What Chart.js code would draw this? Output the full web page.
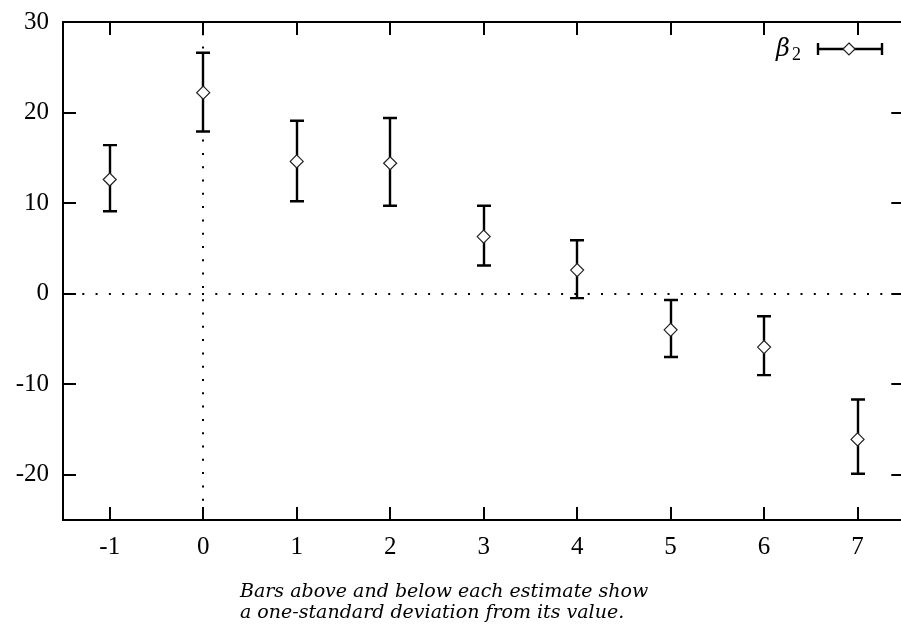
<!DOCTYPE html>
<html>
<head>
<meta charset="utf-8">
<script src="https://cdn.jsdelivr.net/npm/chart.js@4"></script>
<style>
    html, body { margin: 0; padding: 0; overflow: hidden; background: #fff; }
    #wrap { position: relative; width: 901px; height: 633px; overflow: hidden; }
    #caption {
        position: absolute; left: 240px; top: 580px;
        font: italic 19px 'DejaVu Serif', serif; line-height: 21px; color: #000;
        white-space: nowrap;
    }
</style>
</head>
<body>
<div id="wrap">
    <canvas id="chart" width="912" height="633"></canvas>
    <div id="caption">Bars above and below each estimate show<br>a one-standard deviation from its value.</div>
</div>
<script>
// ── Data ───────────────────────────────────────────
const X_VALUES = [-1, 0, 1, 2, 3, 4, 5, 6, 7];
const ESTIMATES = [12.6, 22.2, 14.6, 14.4, 6.3, 2.6, -4.0, -5.9, -16.1];
const UPPER = [16.4, 26.6, 19.1, 19.4, 9.7, 5.9, -0.7, -2.5, -11.7];
const LOWER = [9.1, 17.9, 10.2, 9.7, 3.1, -0.5, -7.0, -9.0, -19.9];
const X_TICKS = [-1, 0, 1, 2, 3, 4, 5, 6, 7];
const Y_TICKS = [-20, -10, 0, 10, 20, 30];
const SERIES_LABEL = 'β';
const SERIES_SUB = '2';

const TICK_FONT = { family: "'Liberation Serif', serif", size: 25 };

// ── Frame, inward ticks and dotted zero lines ─────
const framePlugin = {
    id: 'frame',
    beforeDatasetsDraw(chart) {
        const { ctx, chartArea: a, scales: { x, y } } = chart;
        ctx.save();
        ctx.strokeStyle = '#000';

        // dotted zero lines
        ctx.lineWidth = 2;
        ctx.setLineDash([2, 11.3]);
        const y0 = Math.round(y.getPixelForValue(0));
        ctx.beginPath();
        ctx.moveTo(a.left + 6, y0);
        ctx.lineTo(a.right, y0);
        ctx.stroke();
        const x0 = Math.round(x.getPixelForValue(0));
        ctx.beginPath();
        ctx.moveTo(x0, a.bottom - 6);
        ctx.lineTo(x0, a.top);
        ctx.stroke();
        ctx.setLineDash([]);

        // border
        ctx.lineWidth = 2;
        ctx.strokeRect(a.left, a.top, a.right - a.left, a.bottom - a.top);

        // inward ticks on all four sides
        const len = 13;
        ctx.beginPath();
        X_TICKS.forEach(v => {
            const px = Math.round(x.getPixelForValue(v));
            ctx.moveTo(px, a.bottom); ctx.lineTo(px, a.bottom - len);
            ctx.moveTo(px, a.top); ctx.lineTo(px, a.top + len);
        });
        Y_TICKS.forEach(v => {
            const py = Math.round(y.getPixelForValue(v));
            ctx.moveTo(a.left, py); ctx.lineTo(a.left + len, py);
            ctx.moveTo(a.right, py); ctx.lineTo(a.right - len, py);
        });
        ctx.stroke();

        // error bars
        const meta = chart.getDatasetMeta(0);
        ctx.lineWidth = 2.4;
        ctx.beginPath();
        meta.data.forEach((pt, i) => {
            const px = Math.round(pt.x);
            const top = y.getPixelForValue(UPPER[i]);
            const bot = y.getPixelForValue(LOWER[i]);
            ctx.moveTo(px, top); ctx.lineTo(px, bot);
            ctx.moveTo(px - 7, top); ctx.lineTo(px + 7, top);
            ctx.moveTo(px - 7, bot); ctx.lineTo(px + 7, bot);
        });
        ctx.stroke();
        ctx.restore();
    },
    afterDatasetsDraw(chart) {
        // legend: β₂ with an error bar sample
        const { ctx } = chart;
        ctx.save();
        ctx.fillStyle = '#000';
        ctx.textBaseline = 'alphabetic';
        ctx.font = "italic 24px 'DejaVu Serif', serif";
        ctx.fillText(SERIES_LABEL, 776, 56);
        ctx.font = "18px 'Liberation Serif', serif";
        ctx.fillText(SERIES_SUB, 792, 60);

        const ly = 49;
        ctx.strokeStyle = '#000';
        ctx.lineWidth = 2.4;
        ctx.beginPath();
        ctx.moveTo(818, ly); ctx.lineTo(882, ly);
        ctx.moveTo(818, ly - 6); ctx.lineTo(818, ly + 6);
        ctx.moveTo(882, ly - 6); ctx.lineTo(882, ly + 6);
        ctx.stroke();

        ctx.fillStyle = '#fff';
        ctx.strokeStyle = '#222';
        ctx.lineWidth = 1.2;
        ctx.beginPath();
        ctx.moveTo(849, ly - 6); ctx.lineTo(855, ly); ctx.lineTo(849, ly + 6); ctx.lineTo(843, ly);
        ctx.closePath();
        ctx.fill();
        ctx.stroke();
        ctx.restore();
    }
};

new Chart(document.getElementById('chart'), {
    type: 'scatter',
    data: {
        datasets: [{
            label: 'β2',
            data: X_VALUES.map((x, i) => ({ x, y: ESTIMATES[i] })),
            pointStyle: 'rectRot',
            pointRadius: 6.5,
            pointBackgroundColor: '#fff',
            pointBorderColor: '#222',
            pointBorderWidth: 1.2,
            showLine: false
        }]
    },
    options: {
        responsive: false,
        animation: false,
        devicePixelRatio: 1,
        layout: { padding: { top: 22, right: 4, left: 0, bottom: 0 } },
        plugins: {
            legend: { display: false },
            tooltip: { enabled: false },
            title: { display: false }
        },
        scales: {
            x: {
                type: 'linear',
                min: -1.5,
                max: 7.5,
                grid: { display: false, drawTicks: false },
                border: { display: false },
                afterBuildTicks: s => { s.ticks = X_TICKS.map(v => ({ value: v })); },
                afterFit: s => { s.height = 113; s.paddingLeft = 0; s.paddingRight = 0; },
                ticks: { font: TICK_FONT, color: '#000', padding: 12, maxRotation: 0 }
            },
            y: {
                type: 'linear',
                min: -25,
                max: 30,
                grid: { display: false, drawTicks: false },
                border: { display: false },
                afterBuildTicks: s => { s.ticks = Y_TICKS.map(v => ({ value: v })); },
                afterFit: s => { s.width = 63; s.paddingTop = 0; s.paddingBottom = 0; },
                ticks: { font: TICK_FONT, color: '#000', padding: 14 }
            }
        }
    },
    plugins: [framePlugin]
});
</script>
</body>
</html>
